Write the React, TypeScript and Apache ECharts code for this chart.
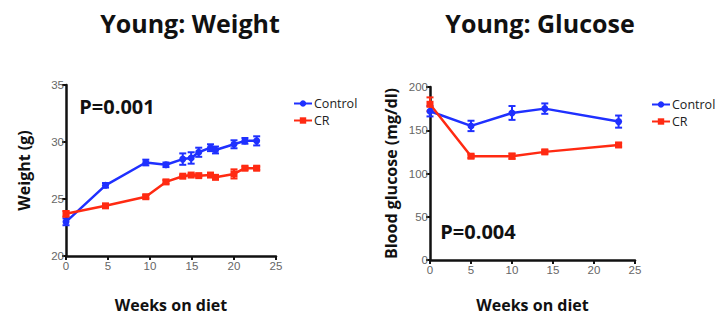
import React, { useEffect, useRef } from "react";
import * as echarts from "echarts";

const weightWeeks = [0, 4.7, 9.5, 11.9, 13.9, 14.9, 15.8, 17.2, 17.8, 20, 21.3, 22.7];
const weightControl = [23.0, 26.2, 28.2, 28.0, 28.5, 28.6, 29.1, 29.5, 29.3, 29.8, 30.1, 30.1];
const weightControlErr = [0.3, 0.2, 0.25, 0.2, 0.5, 0.5, 0.4, 0.3, 0.3, 0.35, 0.25, 0.4];
const weightCR = [23.7, 24.4, 25.2, 26.5, 27.0, 27.1, 27.05, 27.1, 26.9, 27.2, 27.7, 27.7];
const weightCRErr = [0.25, 0.1, 0.15, 0.15, 0.1, 0.1, 0.1, 0.1, 0.1, 0.4, 0.15, 0.15];

const glucoseWeeks = [0, 5, 10, 14, 23];
const glucoseControl = [172, 155, 170, 175, 160];
const glucoseControlErr = [6, 6, 8, 6, 7];
const glucoseCR = [180, 120, 120, 125, 133];
const glucoseCRErr = [8, 2, 3, 2, 2];

const xTicks = [0, 25, 5];
const weightTicks = [20, 35, 5];
const glucoseTicks = [0, 200, 50];

const BLUE = "#1f30ff";
const RED = "#ff2a12";
const BOLD_FONT = "'Open Sans', 'Noto Sans', sans-serif";
const TICK_FONT = "'Liberation Sans Narrow', 'Liberation Sans', sans-serif";

function pts(xs: number[], ys: number[]) {
  return xs.map((x, i) => [x, ys[i]]);
}
function errPts(xs: number[], ys: number[], es: number[]) {
  return xs.map((x, i) => [x, ys[i], es[i]]);
}

function errSeries(name: string, idx: number, data: number[][], color: string) {
  return {
    type: "custom",
    name,
    xAxisIndex: idx,
    yAxisIndex: idx,
    data,
    z: 3,
    renderItem: (params: any, api: any) => {
      const x = api.value(0);
      const y = api.value(1);
      const e = api.value(2);
      const top = api.coord([x, y + e]);
      const bot = api.coord([x, y - e]);
      const w = 3.5;
      const style = { stroke: color, lineWidth: 2 };
      return {
        type: "group",
        children: [
          { type: "line", shape: { x1: top[0], y1: top[1], x2: bot[0], y2: bot[1] }, style },
          { type: "line", shape: { x1: top[0] - w, y1: top[1], x2: top[0] + w, y2: top[1] }, style },
          { type: "line", shape: { x1: bot[0] - w, y1: bot[1], x2: bot[0] + w, y2: bot[1] }, style },
        ],
      };
    },
  };
}

function xAxis(gridIndex: number, nameGap: number) {
  return {
    type: "value",
    gridIndex,
    min: xTicks[0],
    max: xTicks[1],
    interval: xTicks[2],
    name: "Weeks on diet",
    nameLocation: "middle",
    nameGap,
    nameTextStyle: { fontFamily: BOLD_FONT, fontWeight: "bold", fontSize: 16, color: "#111" },
    splitLine: { show: false },
    axisLine: { lineStyle: { color: "#111", width: 2.5 } },
    axisTick: { length: 4, lineStyle: { color: "#111", width: 2 } },
    axisLabel: { color: "#666", fontSize: 11.5, fontFamily: TICK_FONT, margin: 4 },
  };
}

function yAxis(gridIndex: number, ticks: number[], name: string, nameGap: number) {
  return {
    type: "value",
    gridIndex,
    min: ticks[0],
    max: ticks[1],
    interval: ticks[2],
    name,
    nameLocation: "middle",
    nameGap,
    nameTextStyle: { fontFamily: BOLD_FONT, fontWeight: "bold", fontSize: 16, color: "#111" },
    splitLine: { show: false },
    axisLine: { show: true, lineStyle: { color: "#111", width: 2.5 } },
    axisTick: { show: true, length: 4, lineStyle: { color: "#111", width: 2 } },
    axisLabel: { color: "#666", fontSize: 11.5, fontFamily: TICK_FONT, margin: 2 },
  };
}

function lineSeries(name: string, idx: number, data: number[][], color: string, symbol: string) {
  return {
    type: "line",
    name,
    xAxisIndex: idx,
    yAxisIndex: idx,
    data,
    symbol,
    symbolSize: 7,
    z: 4,
    lineStyle: { color, width: 2.5 },
    itemStyle: { color },
  };
}

export default function App() {
  const ref = useRef<HTMLDivElement>(null);
  useEffect(() => {
    if (!ref.current) return;
    const chart = echarts.init(ref.current, undefined, { renderer: "svg" });
    const legendBase = {
      orient: "vertical",
      data: ["Control", "CR"],
      itemWidth: 18,
      itemHeight: 8,
      itemGap: 4,
      textStyle: { fontFamily: BOLD_FONT, fontSize: 12.5, color: "#222", padding: [0, 0, 0, -3] },
      selectedMode: false,
    };
    chart.setOption({
      animation: false,
      backgroundColor: "#fff",
      title: [
        {
          text: "Young: Weight",
          left: 185,
          top: 5,
          textAlign: "center",
          textStyle: { fontFamily: BOLD_FONT, fontWeight: "bold", fontSize: 25, color: "#111" },
        },
        {
          text: "Young: Glucose",
          left: 535,
          top: 5,
          textAlign: "center",
          textStyle: { fontFamily: BOLD_FONT, fontWeight: "bold", fontSize: 25, color: "#111" },
        },
      ],
      legend: [
        { ...legendBase, left: 288, top: 92 },
        { ...legendBase, left: 646, top: 93 },
      ],
      grid: [
        { left: 66, top: 85, width: 210, height: 171 },
        { left: 430, top: 87, width: 205, height: 173 },
      ],
      xAxis: [xAxis(0, 41), xAxis(1, 37)],
      yAxis: [
        yAxis(0, weightTicks, "Weight (g)", 34),
        yAxis(1, glucoseTicks, "Blood glucose (mg/dl)", 31),
      ],
      graphic: [
        {
          type: "text",
          x: 117,
          y: 106,
          style: {
            text: "P=0.001",
            fontFamily: BOLD_FONT,
            fontWeight: "bold",
            fontSize: 20,
            fill: "#111",
            textAlign: "center",
            textVerticalAlign: "middle",
          },
        },
        {
          type: "text",
          x: 478,
          y: 231,
          style: {
            text: "P=0.004",
            fontFamily: BOLD_FONT,
            fontWeight: "bold",
            fontSize: 20,
            fill: "#111",
            textAlign: "center",
            textVerticalAlign: "middle",
          },
        },
      ],
      series: [
        errSeries("Control err", 0, errPts(weightWeeks, weightControl, weightControlErr), BLUE),
        errSeries("CR err", 0, errPts(weightWeeks, weightCR, weightCRErr), RED),
        lineSeries("Control", 0, pts(weightWeeks, weightControl), BLUE, "circle"),
        lineSeries("CR", 0, pts(weightWeeks, weightCR), RED, "rect"),
        errSeries("Control err", 1, errPts(glucoseWeeks, glucoseControl, glucoseControlErr), BLUE),
        errSeries("CR err", 1, errPts(glucoseWeeks, glucoseCR, glucoseCRErr), RED),
        lineSeries("Control", 1, pts(glucoseWeeks, glucoseControl), BLUE, "circle"),
        lineSeries("CR", 1, pts(glucoseWeeks, glucoseCR), RED, "rect"),
      ],
    });
    return () => chart.dispose();
  }, []);
  return (
    <div
      ref={ref}
      style={{ position: "absolute", left: 0, top: 0, width: 716, height: 320 }}
    />
  );
}
